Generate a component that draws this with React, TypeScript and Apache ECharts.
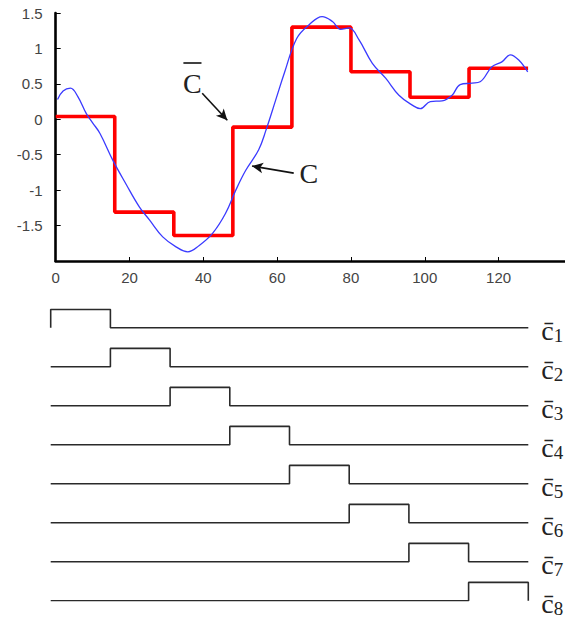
import React, { useEffect, useRef } from "react";
import * as echarts from "echarts";

// ---- data ----
const segmentEdges = [0, 16, 32, 48, 64, 80, 96, 112, 128];
const stepValues = [0.04, -1.31, -1.64, -0.11, 1.3, 0.67, 0.31, 0.72];

const curveX = [0.5, 2, 4, 6, 8.3, 10, 12, 15.5, 19, 22.7, 25.4, 29, 32.6, 35.8, 38.9, 42.5, 46, 48.8, 51.5, 55, 57, 59.6, 62, 65.3, 68.6, 72.2, 75, 77.2, 79.5, 82.2, 85.8, 89.4, 93, 96.6, 98.8, 101.5, 104.7, 107.4, 109.6, 112.8, 115, 118.2, 120.9, 123.2, 125.4, 127.9];
const curveY = [0.28, 0.4, 0.44, 0.32, 0.08, -0.05, -0.2, -0.58, -0.91, -1.24, -1.42, -1.66, -1.8, -1.87, -1.78, -1.61, -1.33, -1.0, -0.72, -0.43, -0.15, 0.27, 0.66, 1.14, 1.33, 1.45, 1.38, 1.27, 1.29, 1.12, 0.79, 0.58, 0.34, 0.2, 0.15, 0.25, 0.26, 0.34, 0.49, 0.51, 0.53, 0.74, 0.81, 0.91, 0.84, 0.67];

const rowLabels = ["1", "2", "3", "4", "5", "6", "7", "8"];

// annotation anchors (data coords)
const cBarLabel = [37.0, 0.5];
const cBarOverline = [[34.6, 0.794], [39.5, 0.794]];
const cBarArrow = [[39.7, 0.367], [46.5, -0.014]];
const cLabel = [68.6, -0.76];
const cArrow = [[64.5, -0.76], [53.2, -0.66]];

const X_MAX_TOP = 138;
const ROW_GAP = 39 / 18.3;

export default function App() {
  const ref = useRef<HTMLDivElement>(null);
  useEffect(() => {
    if (!ref.current) return;
    const chart = echarts.init(ref.current, undefined, { renderer: "svg" });

    const stepData: number[][] = [];
    stepValues.forEach((v, i) => {
      stepData.push([segmentEdges[i], v]);
      stepData.push([segmentEdges[i + 1], v]);
    });
    const curveData = curveX.map((x, i) => [x, curveY[i]]);

    const nRows = rowLabels.length;
    const xEnd = segmentEdges[segmentEdges.length - 1];
    const rowSeries = rowLabels.map((lab, i) => {
      const base = (nRows - 1 - i) * ROW_GAP;
      const s = segmentEdges[i];
      const e = segmentEdges[i + 1];
      const data = [
        [0, base],
        [s, base],
        [s, base + 1],
        [e, base + 1],
        [e, base],
        [xEnd, base],
      ];
      return {
        type: "line",
        xAxisIndex: 1,
        yAxisIndex: 1,
        data,
        symbol: "none",
        lineStyle: { color: "#2a2a2a", width: 1.6 },
        endLabel: {
          show: true,
          distance: 13,
          offset: [0, 3],
          formatter: () => `{c|c\u0304}{s|${lab}}`,
          rich: {
            c: { fontFamily: "Liberation Serif", fontSize: 28, color: "#222" },
            s: { fontFamily: "Liberation Serif", fontSize: 19, color: "#222", padding: [9, 0, 0, 0] },
          },
        },
        silent: true,
      };
    });

    const axisFont = { fontFamily: "Liberation Sans", fontSize: 15, color: "#444" };

    chart.setOption({
      animation: false,
      grid: [
        { left: 55.7, top: 13, width: X_MAX_TOP * 3.708, height: 248 },
        { left: 50.7, top: 309.4, width: 477.6, height: 291.3 },
      ],
      xAxis: [
        {
          type: "value",
          gridIndex: 0,
          min: 0,
          max: X_MAX_TOP,
          interval: 20,
          splitLine: { show: false },
          axisLine: { show: true, onZero: false, lineStyle: { color: "#000", width: 2.6 } },
          axisTick: { show: true, inside: true, length: 4, lineStyle: { color: "#000", width: 1 } },
          axisLabel: {
            ...axisFont,
            margin: 9,
            showMaxLabel: false,
            formatter: (v: number) => (v % 20 === 0 ? String(v) : ""),
          },
        },
        { type: "value", gridIndex: 1, min: 0, max: xEnd, show: false },
      ],
      yAxis: [
        {
          type: "value",
          gridIndex: 0,
          min: -2,
          max: 1.5,
          interval: 0.5,
          splitLine: { show: false },
          axisLine: { show: true, onZero: false, lineStyle: { color: "#000", width: 2.6 } },
          axisTick: { show: true, inside: true, length: 5, lineStyle: { color: "#000", width: 1 } },
          axisLabel: { ...axisFont, margin: 13, showMinLabel: false },
        },
        { type: "value", gridIndex: 1, min: 0, max: (nRows - 1) * ROW_GAP + 1, show: false },
      ],
      series: [
        {
          type: "line",
          data: stepData,
          symbol: "none",
          lineStyle: { color: "#ff0000", width: 3.6 },
          silent: true,
          markLine: {
            silent: true,
            animation: false,
            label: { show: false },
            lineStyle: { color: "#111", width: 1.6, type: "solid" },
            data: [
              [
                { coord: cBarArrow[0], symbol: "none" },
                { coord: cBarArrow[1], symbol: "arrow", symbolSize: [8, 11] },
              ],
              [
                { coord: cArrow[0], symbol: "none" },
                { coord: cArrow[1], symbol: "arrow", symbolSize: [8, 11] },
              ],
              [
                { coord: cBarOverline[0], symbol: "none" },
                { coord: cBarOverline[1], symbol: "none" },
              ],
            ],
          },
          markPoint: {
            silent: true,
            symbol: "circle",
            symbolSize: 1,
            itemStyle: { color: "rgba(0,0,0,0)" },
            label: {
              show: true,
              position: "inside",
              fontFamily: "Liberation Serif",
              fontSize: 28,
              color: "#222",
              formatter: "C",
            },
            data: [{ coord: cBarLabel }, { coord: cLabel }],
          },
        },
        {
          type: "line",
          data: curveData,
          symbol: "none",
          smooth: 0.4,
          lineStyle: { color: "#3a3aff", width: 1.3 },
          silent: true,
        },
        ...rowSeries,
      ],
    });
    return () => chart.dispose();
  }, []);
  return (
    <div
      ref={ref}
      style={{ position: "fixed", left: 0, top: 0, width: 565, height: 623, background: "#fff" }}
    />
  );
}
